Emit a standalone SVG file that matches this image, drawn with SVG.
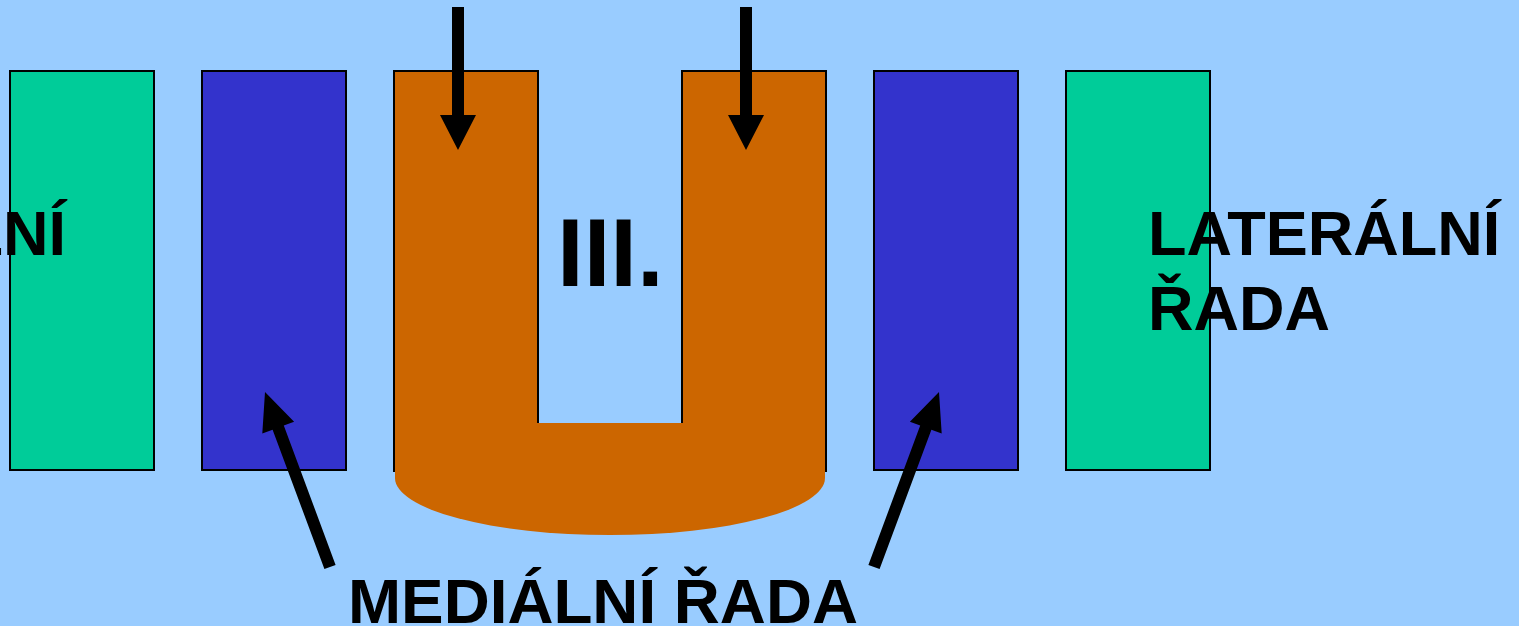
<svg xmlns="http://www.w3.org/2000/svg" width="1519" height="626" viewBox="0 0 1519 626">
<style>
.lbl{font-family:"Liberation Sans",Arial,sans-serif;font-weight:bold;fill:#000}
.green{fill:#00CC99;stroke:#000;stroke-width:2}
.blue{fill:#3333CC;stroke:#000;stroke-width:2}
.orange{fill:#CC6600;stroke:#000;stroke-width:2}
.arrow{fill:#000}
</style>
<rect x="0" y="0" width="1519" height="626" fill="#99CCFF"/>
<g id="lateral-left">
<rect class="green" x="10" y="71" width="144" height="399"/>
</g>
<g id="medial-left">
<rect class="blue" x="202" y="71" width="144" height="399"/>
</g>
<g id="u-shape">
<rect class="orange" x="394" y="71" width="144" height="400"/>
<rect class="orange" x="682" y="71" width="144" height="400"/>
<path d="M395,423 H825 V478 A215,57 0 0 1 395,478 Z" fill="#CC6600"/>
</g>
<g id="medial-right">
<rect class="blue" x="874" y="71" width="144" height="399"/>
</g>
<g id="lateral-right">
<rect class="green" x="1066" y="71" width="144" height="399"/>
</g>
<g id="labels">
<text class="lbl" x="66" y="255" font-size="63" text-anchor="end">LATERÁLNÍ</text>
<text class="lbl" x="557" y="286" font-size="96">III.</text>
<text class="lbl" x="1148" y="255" font-size="63">LATERÁLNÍ</text>
<text class="lbl" x="1148" y="330" font-size="63">ŘADA</text>
<text class="lbl" x="348" y="623" font-size="63" textLength="510" lengthAdjust="spacingAndGlyphs">MEDIÁLNÍ ŘADA</text>
</g>
<g id="connectors">
<polygon class="arrow" points="452,7 464,7 464,115 476,115 458,150 440,115 452,115"/>
<polygon class="arrow" points="740,7 752,7 752,115 764,115 746,150 728,115 740,115"/>
<polygon class="arrow" points="265,392 294.1,421.7 283.8,425.5 335.6,564.9 324.4,569.1 272.6,429.7 262.3,433.5"/>
<polygon class="arrow" points="939,392 909.9,421.7 920.2,425.5 868.4,564.9 879.6,569.1 931.4,429.7 941.7,433.5"/>
</g>
</svg>
